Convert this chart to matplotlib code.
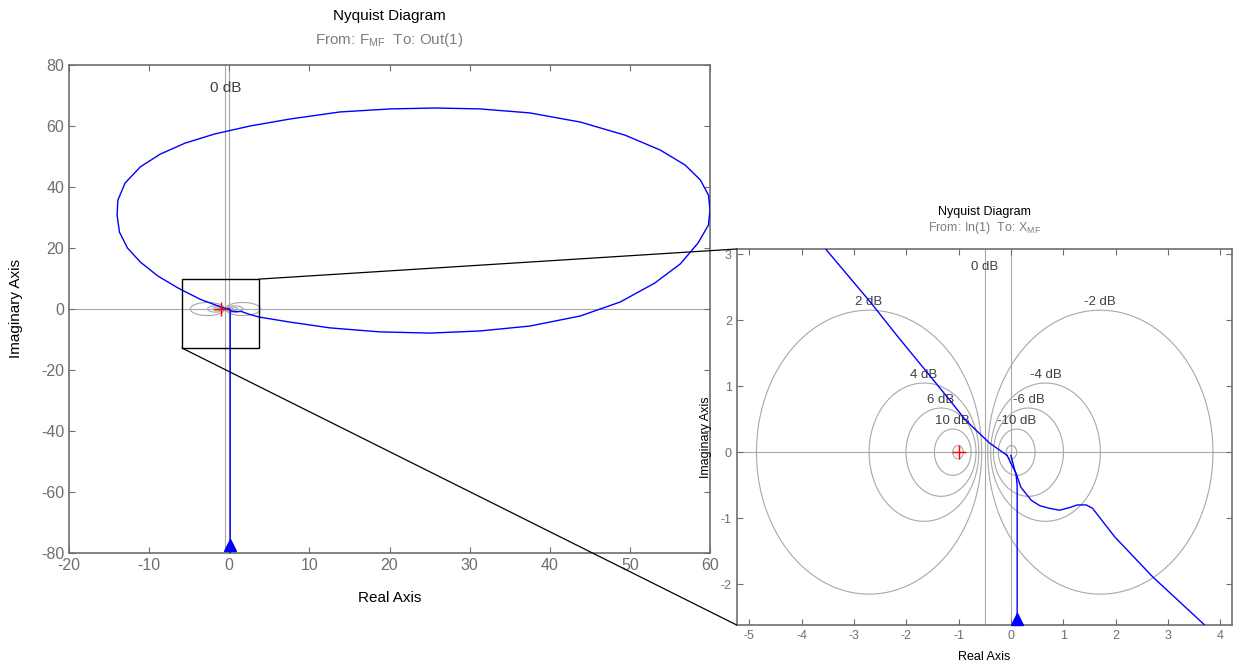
import numpy as np
import matplotlib.pyplot as plt
from matplotlib.patches import Rectangle, ConnectionPatch
import matplotlib.transforms as mtransforms

plt.rcParams['font.family'] = ['Liberation Sans', 'DejaVu Sans']
plt.rcParams['axes.unicode_minus'] = False

# Nyquist loop (real, imag), traced from the origin clockwise
loop_re = [-0.07, 0.00, 0.10, 0.19, 0.39, 0.55, 0.73, 0.93, 1.12, 1.27, 1.44, 1.56,
           1.98, 2.71, 3.73, 7.6, 12.6, 18.8, 25.1, 31.3, 37.5, 43.8, 48.8, 53.1,
           56.3, 58.5, 59.8, 60.0, 59.8, 58.8, 56.9, 53.8, 49.4, 43.8, 37.5, 31.3,
           25.7, 20.1, 13.8, 7.6, 2.6, -1.8, -5.5, -8.6, -11.1, -13.0, -13.9, -14.0,
           -13.7, -12.7, -11.1, -8.9, -6.2, -3.54, -2.67, -2.17, -1.56, -1.18, -0.86,
           -0.41, -0.07]
loop_im = [-0.05, -0.17, -0.32, -0.53, -0.73, -0.81, -0.85, -0.88, -0.84, -0.80, -0.80, -0.85,
           -1.28, -1.89, -2.64, -4.3, -6.2, -7.5, -7.9, -7.2, -5.6, -2.3, 2.3, 8.5,
           14.8, 21.6, 27.5, 32.5, 37.4, 42.3, 47.2, 52.1, 57.0, 61.3, 64.3, 65.6,
           65.9, 65.6, 64.6, 62.3, 60.0, 57.4, 54.4, 50.8, 46.6, 41.3, 35.7, 30.8,
           25.2, 20.0, 15.4, 10.8, 6.6, 3.08, 2.26, 1.76, 1.17, 0.80, 0.48,
           0.14, -0.05]

# low-frequency branch running down to -j inf
branch_re = [0.00, 0.05, 0.10, 0.12, 0.12]
branch_im = [-0.05, -0.20, -0.35, -0.50, -80.0]

# constant closed-loop gain contours (dB)
grid_db = [-20, -10, -6, -4, -2, 2, 4, 6, 10, 20]
label_db = [-10, -6, -4, -2, 2, 4, 6, 10]

GRID = '#a8a8a8'
SPINE = '#6e6e6e'
TICK = '#6e6e6e'

fig = plt.figure(figsize=(12.41, 6.68), dpi=100)
ax1 = fig.add_axes([69 / 1241, 1 - 553 / 668, 641 / 1241, 488 / 668])
ax2 = fig.add_axes([736.7 / 1241, 1 - 625 / 668, 495 / 1241, 376 / 668])


def m_circle(db):
    m = 10 ** (db / 20.0)
    c = -m ** 2 / (m ** 2 - 1)
    r = abs(m / (m ** 2 - 1))
    return c, r


def nyquist_axes(ax, xlim, ylim, xticks, yticks, fs, tfs, labels):
    t = np.linspace(0, 2 * np.pi, 400)
    for db in grid_db:
        c, r = m_circle(db)
        ax.plot(c + r * np.cos(t), r * np.sin(t), color=GRID, lw=0.8, zorder=1)
    ax.axvline(-0.5, color=GRID, lw=0.8, zorder=1)
    ax.axvline(0, color=GRID, lw=0.8, zorder=1)
    ax.axhline(0, color=GRID, lw=0.8, zorder=1)

    trans = mtransforms.blended_transform_factory(ax.transData, ax.transAxes)
    ax.text(-0.5, 0.953, '0 dB', transform=trans, ha='center', va='center',
            fontsize=fs, color='#404040')
    if labels:
        for db in label_db:
            c, r = m_circle(db)
            ax.annotate('%d dB' % db, xy=(c, r), xytext=(0, 6), textcoords='offset points',
                        ha='center', va='center', fontsize=fs, color='#404040')

    ax.plot(loop_re, loop_im, color='#0000ff', lw=1.0, zorder=3)
    ax.plot(branch_re, branch_im, color='#0000ff', lw=1.0, zorder=3)
    ya = ylim[0] + 0.016 * (ylim[1] - ylim[0])
    ax.plot(branch_re[-1], ya, marker='^', color='#0000ff', ms=9, zorder=4, clip_on=False)
    ax.plot(-1, 0, marker='+', color='red', ms=10, mew=1.0, zorder=4)

    ax.set_xlim(xlim)
    ax.set_ylim(ylim)
    ax.set_xticks(xticks)
    ax.set_yticks(yticks)
    ax.tick_params(direction='in', top=True, right=True, length=4, width=0.8,
                   color=SPINE, labelcolor=TICK, labelsize=tfs)
    for s in ax.spines.values():
        s.set_color(SPINE)
        s.set_linewidth(1.2)


nyquist_axes(ax1, (-20, 60), (-80, 80), range(-20, 61, 10), range(-80, 81, 20), 11, 11.5, False)
nyquist_axes(ax2, (-5.24, 4.22), (-2.62, 3.08), range(-5, 5), range(-2, 4), 9.5, 9, True)

# titles
ax1.annotate('Nyquist Diagram', xy=(0.5, 1), xycoords='axes fraction', xytext=(0, 35),
             textcoords='offset points', ha='center', va='center', fontsize=11, color='black')
ax1.annotate(r'From: F$_{\mathregular{MF}}$  To: Out(1)', xy=(0.5, 1), xycoords='axes fraction',
             xytext=(0, 18), textcoords='offset points', ha='center', va='center',
             fontsize=11, color='#7f7f7f')
ax2.annotate('Nyquist Diagram', xy=(0.5, 1), xycoords='axes fraction', xytext=(0, 27),
             textcoords='offset points', ha='center', va='center', fontsize=9, color='black')
ax2.annotate(r'From: In(1)  To: X$_{\mathregular{MF}}$', xy=(0.5, 1), xycoords='axes fraction',
             xytext=(0, 15), textcoords='offset points', ha='center', va='center',
             fontsize=9, color='#7f7f7f')

ax1.set_xlabel('Real Axis', fontsize=11)
ax1.set_ylabel('Imaginary Axis', fontsize=11)
ax1.xaxis.set_label_coords(0.5, -45 / 488)
ax1.yaxis.set_label_coords(-53 / 641, 0.5)
ax2.set_xlabel('Real Axis', fontsize=9)
ax2.set_ylabel('Imaginary Axis', fontsize=9)
ax2.xaxis.set_label_coords(0.5, -32 / 376)
ax2.yaxis.set_label_coords(-31 / 495, 0.5)
for ax in (ax1, ax2):
    ax.xaxis.label.set_verticalalignment('center')
    ax.yaxis.label.set_verticalalignment('center')

# zoom box and connecting lines
ax1.add_patch(Rectangle((-5.9, -12.8), 9.6, 22.6, fill=False, edgecolor='black', lw=1.0, zorder=5))
for a, b in [((3.7, 9.8), (0, 1)), ((-5.9, -12.8), (0, 0))]:
    con = ConnectionPatch(xyA=a, coordsA=ax1.transData, xyB=b, coordsB=ax2.transAxes,
                          color='black', lw=0.9)
    fig.add_artist(con)

fig.savefig('out.png', dpi=100)
